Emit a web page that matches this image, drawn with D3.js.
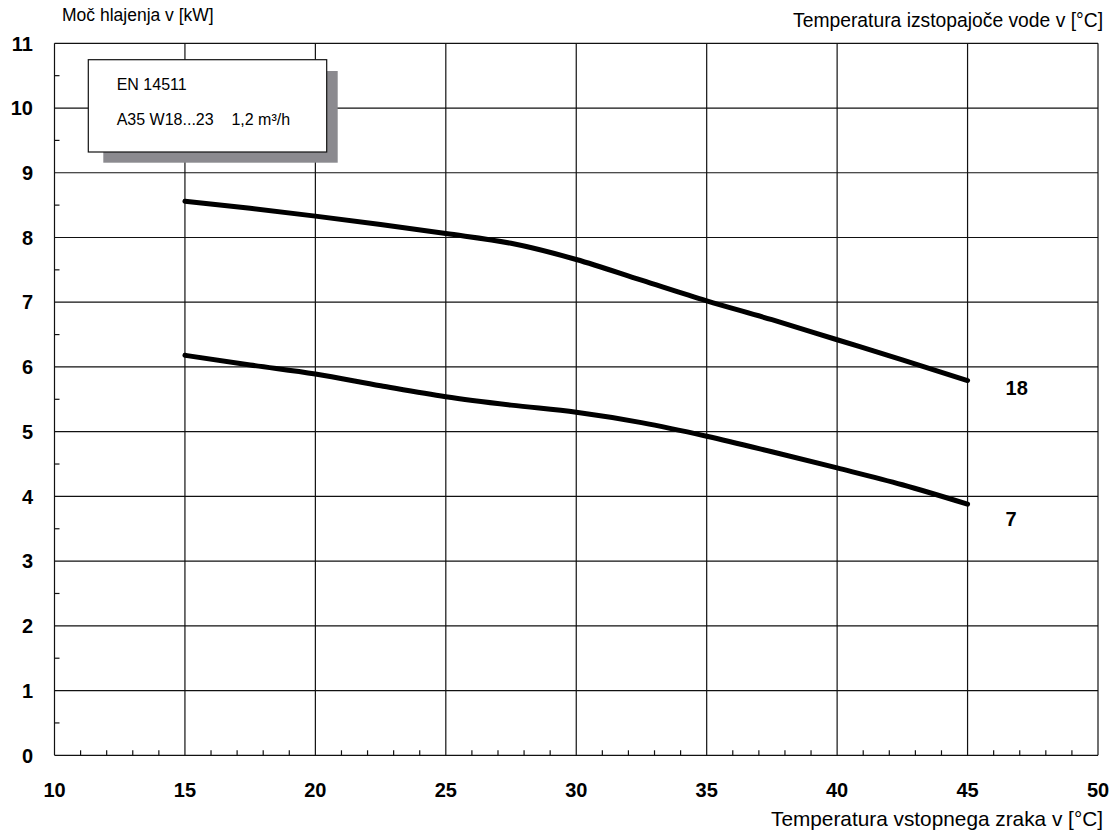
<!DOCTYPE html>
<html><head><meta charset="utf-8">
<script src="https://cdn.jsdelivr.net/npm/d3@7"></script>
<style>body{margin:0;background:#fff}svg{display:block}text{font-family:"Liberation Sans",Arial,sans-serif;fill:#000}</style>
</head><body>
<svg id="c" width="1113" height="837"></svg>
<script>
const xTicks = [10,15,20,25,30,35,40,45,50];
const yTicks = [0,1,2,3,4,5,6,7,8,9,10,11];
const airTemp = [15,17.5,20,22.5,25,27.5,30,32.5,35,37.5,40,42.5,45];
const series18 = [8.56,8.45,8.33,8.20,8.06,7.91,7.66,7.34,7.02,6.73,6.42,6.11,5.79];
const series7  = [6.18,6.03,5.89,5.71,5.54,5.41,5.30,5.14,4.93,4.69,4.44,4.18,3.88];
const seriesNames = ["18","7"];
const legendLines = ["EN 14511","A35 W18...23    1,2 m³/h"];

const svg = d3.select("#c");
const x = d3.scaleLinear().domain([10,50]).range([54.5,1098]);
const y = d3.scaleLinear().domain([0,11]).range([755.3,43.3]);

const g = svg.append("g");
g.selectAll(".hg").data(yTicks).join("line")
 .attr("x1",x(10)).attr("x2",x(50)).attr("y1",d=>y(d)).attr("y2",d=>y(d))
 .attr("stroke","#111").attr("stroke-width",1.2);
g.selectAll(".vg").data(xTicks).join("line")
 .attr("y1",y(0)).attr("y2",y(11)).attr("x1",d=>x(d)).attr("x2",d=>x(d))
 .attr("stroke","#111").attr("stroke-width",1.2);
const xMinor = d3.range(11,50).filter(v=>v%5!==0);
g.selectAll(".xm").data(xMinor).join("line")
 .attr("x1",d=>x(d)).attr("x2",d=>x(d)).attr("y1",y(0)).attr("y2",y(0)-5)
 .attr("stroke","#111").attr("stroke-width",1.2);
const yMinor = d3.range(0.5,11,1);
g.selectAll(".ym").data(yMinor).join("line")
 .attr("x1",x(10)).attr("x2",x(10)+5).attr("y1",d=>y(d)).attr("y2",d=>y(d))
 .attr("stroke","#111").attr("stroke-width",1.2);

svg.selectAll(".xl").data(xTicks).join("text")
 .attr("x",d=>x(d)).attr("y",797).attr("text-anchor","middle")
 .attr("font-size",20).attr("font-weight","bold").text(d=>d);
svg.selectAll(".yl").data(yTicks).join("text")
 .attr("x",33).attr("y",d=>y(d)+7.2).attr("text-anchor","end")
 .attr("font-size",20).attr("font-weight","bold").text(d=>d);

svg.append("text").attr("x",62).attr("y",21).attr("font-size",17.5).text("Moč hlajenja v [kW]");
svg.append("text").attr("x",1103).attr("y",27).attr("text-anchor","end").attr("font-size",19.3).text("Temperatura izstopajoče vode v [°C]");
svg.append("text").attr("x",1103).attr("y",826).attr("text-anchor","end").attr("font-size",20.8).text("Temperatura vstopnega zraka v [°C]");

svg.append("rect").attr("x",103.3).attr("y",71).attr("width",234.4).attr("height",91.7).attr("fill","#8b8a8f");
svg.append("rect").attr("x",88.3).attr("y",59.7).attr("width",238.4).attr("height",92.3).attr("fill","#fff").attr("stroke","#111").attr("stroke-width",1.2);
svg.selectAll(".lg").data(legendLines).join("text")
 .attr("x",116.7).attr("y",(d,i)=>90+i*35).attr("font-size",16).style("white-space","pre").text(d=>d);

const line = d3.line().x((d,i)=>x(airTemp[i])).y(d=>y(d)).curve(d3.curveMonotoneX);
[series18,series7].forEach((s,k)=>{
  svg.append("path").attr("d",line(s)).attr("fill","none").attr("stroke","#000")
   .attr("stroke-width",5).attr("stroke-linecap","round").attr("stroke-linejoin","round");
  svg.append("text").attr("x",x(45)+38).attr("y",y(s[s.length-1])+(k===0?14.5:22))
   .attr("font-size",20).attr("font-weight","bold").text(seriesNames[k]);
});
</script>
</body></html>
